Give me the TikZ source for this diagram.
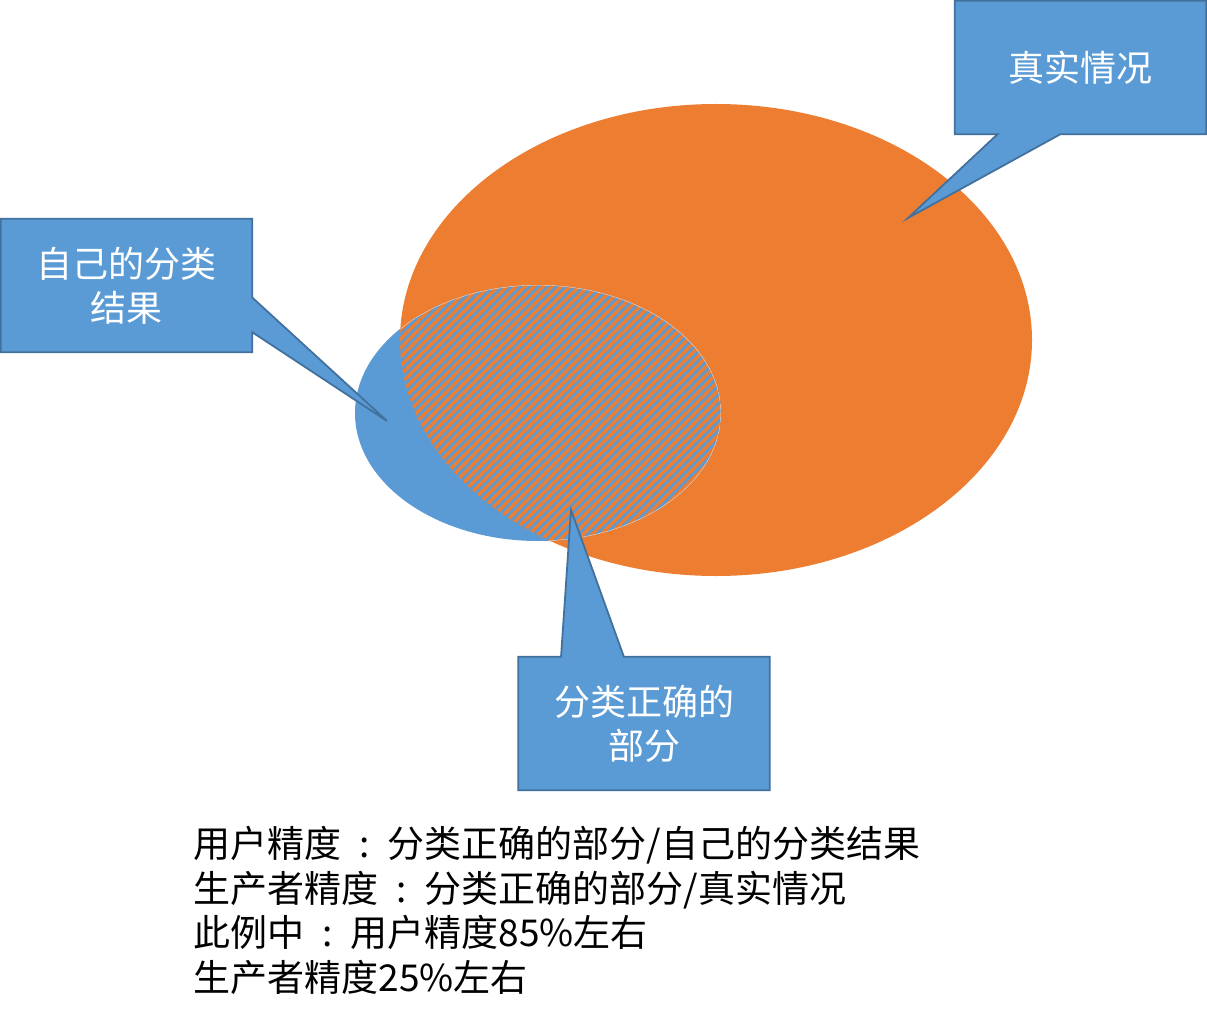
\documentclass[tikz,border=0pt]{standalone}
\usepackage{fontspec}
\setmainfont{Noto Sans CJK SC}
\usepackage{tikz}
\usetikzlibrary{calc,positioning}
\definecolor{tyorange}{HTML}{ED7D31}
\definecolor{tyblue}{HTML}{5B9BD5}
\definecolor{tyedge}{HTML}{41719C}
\pgfdeclarelayer{sets}
\pgfdeclarelayer{background}
\pgfsetlayers{sets,background,main}
\newcommand{\cn}{\makebox[1.25em][c]{:}}

\begin{document}
\begin{tikzpicture}[
    x=1pt, y=-1pt,
    bubble/.style={fill=tyblue, draw=tyedge, line width=1.8pt, line join=miter},
    label/.style={minimum width=251pt, minimum height=133pt, align=center, text=white, font=\fontsize{36}{44}\selectfont},
    note/.style={anchor=north west, align=left, font=\fontsize{37}{44.5}\selectfont}
]
\useasboundingbox (0,0) rectangle (1207,1024);

% Sets
\begin{pgfonlayer}{sets}
\fill[tyorange] (716,340) ellipse [x radius=316, y radius=236];
\fill[tyblue] (538,413) ellipse [x radius=183, y radius=128];
\begin{scope}
    \clip (538,413) ellipse [x radius=183, y radius=128];
    \clip (716,340) ellipse [x radius=316, y radius=236];
    \fill[tyorange] (300,250) rectangle (760,560);
    \foreach \i in {0,9,...,810}
        \draw[tyblue, line width=2.8pt] (\i,600) -- ++(400,-400);
    \draw[white, line width=0.8pt, opacity=0.7] (538,413) ellipse [x radius=183, y radius=128];
\end{scope}
\end{pgfonlayer}

% Callouts
\node[label] (real) at (1080.5,67.5) {真实情况};
\node[label] (own) at (126.5,285.5) {自己的分类\\结果};
\node[label] (right) at (644,723.5) {分类正确的\\部分};

\coordinate (realtip) at (908,218);
\coordinate (owntip) at (387,421);
\coordinate (righttip) at (571,510);

\begin{pgfonlayer}{background}
\draw[bubble] (real.north west) -- (real.north east) -- (real.south east)
    -- ($(real.south west)!0.42!(real.south east)$) -- (realtip)
    -- ($(real.south west)!0.17!(real.south east)$) -- (real.south west) -- cycle;
\draw[bubble] (own.north west) -- (own.north east)
    -- ($(own.north east)!0.59!(own.south east)$) -- (owntip)
    -- ($(own.north east)!0.85!(own.south east)$) -- (own.south east) -- (own.south west) -- cycle;
\draw[bubble] (right.north west) -- ($(right.north west)!0.17!(right.north east)$) -- (righttip)
    -- ($(right.north west)!0.42!(right.north east)$) -- (right.north east)
    -- (right.south east) -- (right.south west) -- cycle;
\end{pgfonlayer}

% Notes
\node[note] (notes) at (190,823) {用户精度\cn 分类正确的部分/自己的分类结果\\
生产者精度\cn 分类正确的部分/真实情况\\
此例中\cn 用户精度85\%左右\\
生产者精度25\%左右};

\end{tikzpicture}
\end{document}
